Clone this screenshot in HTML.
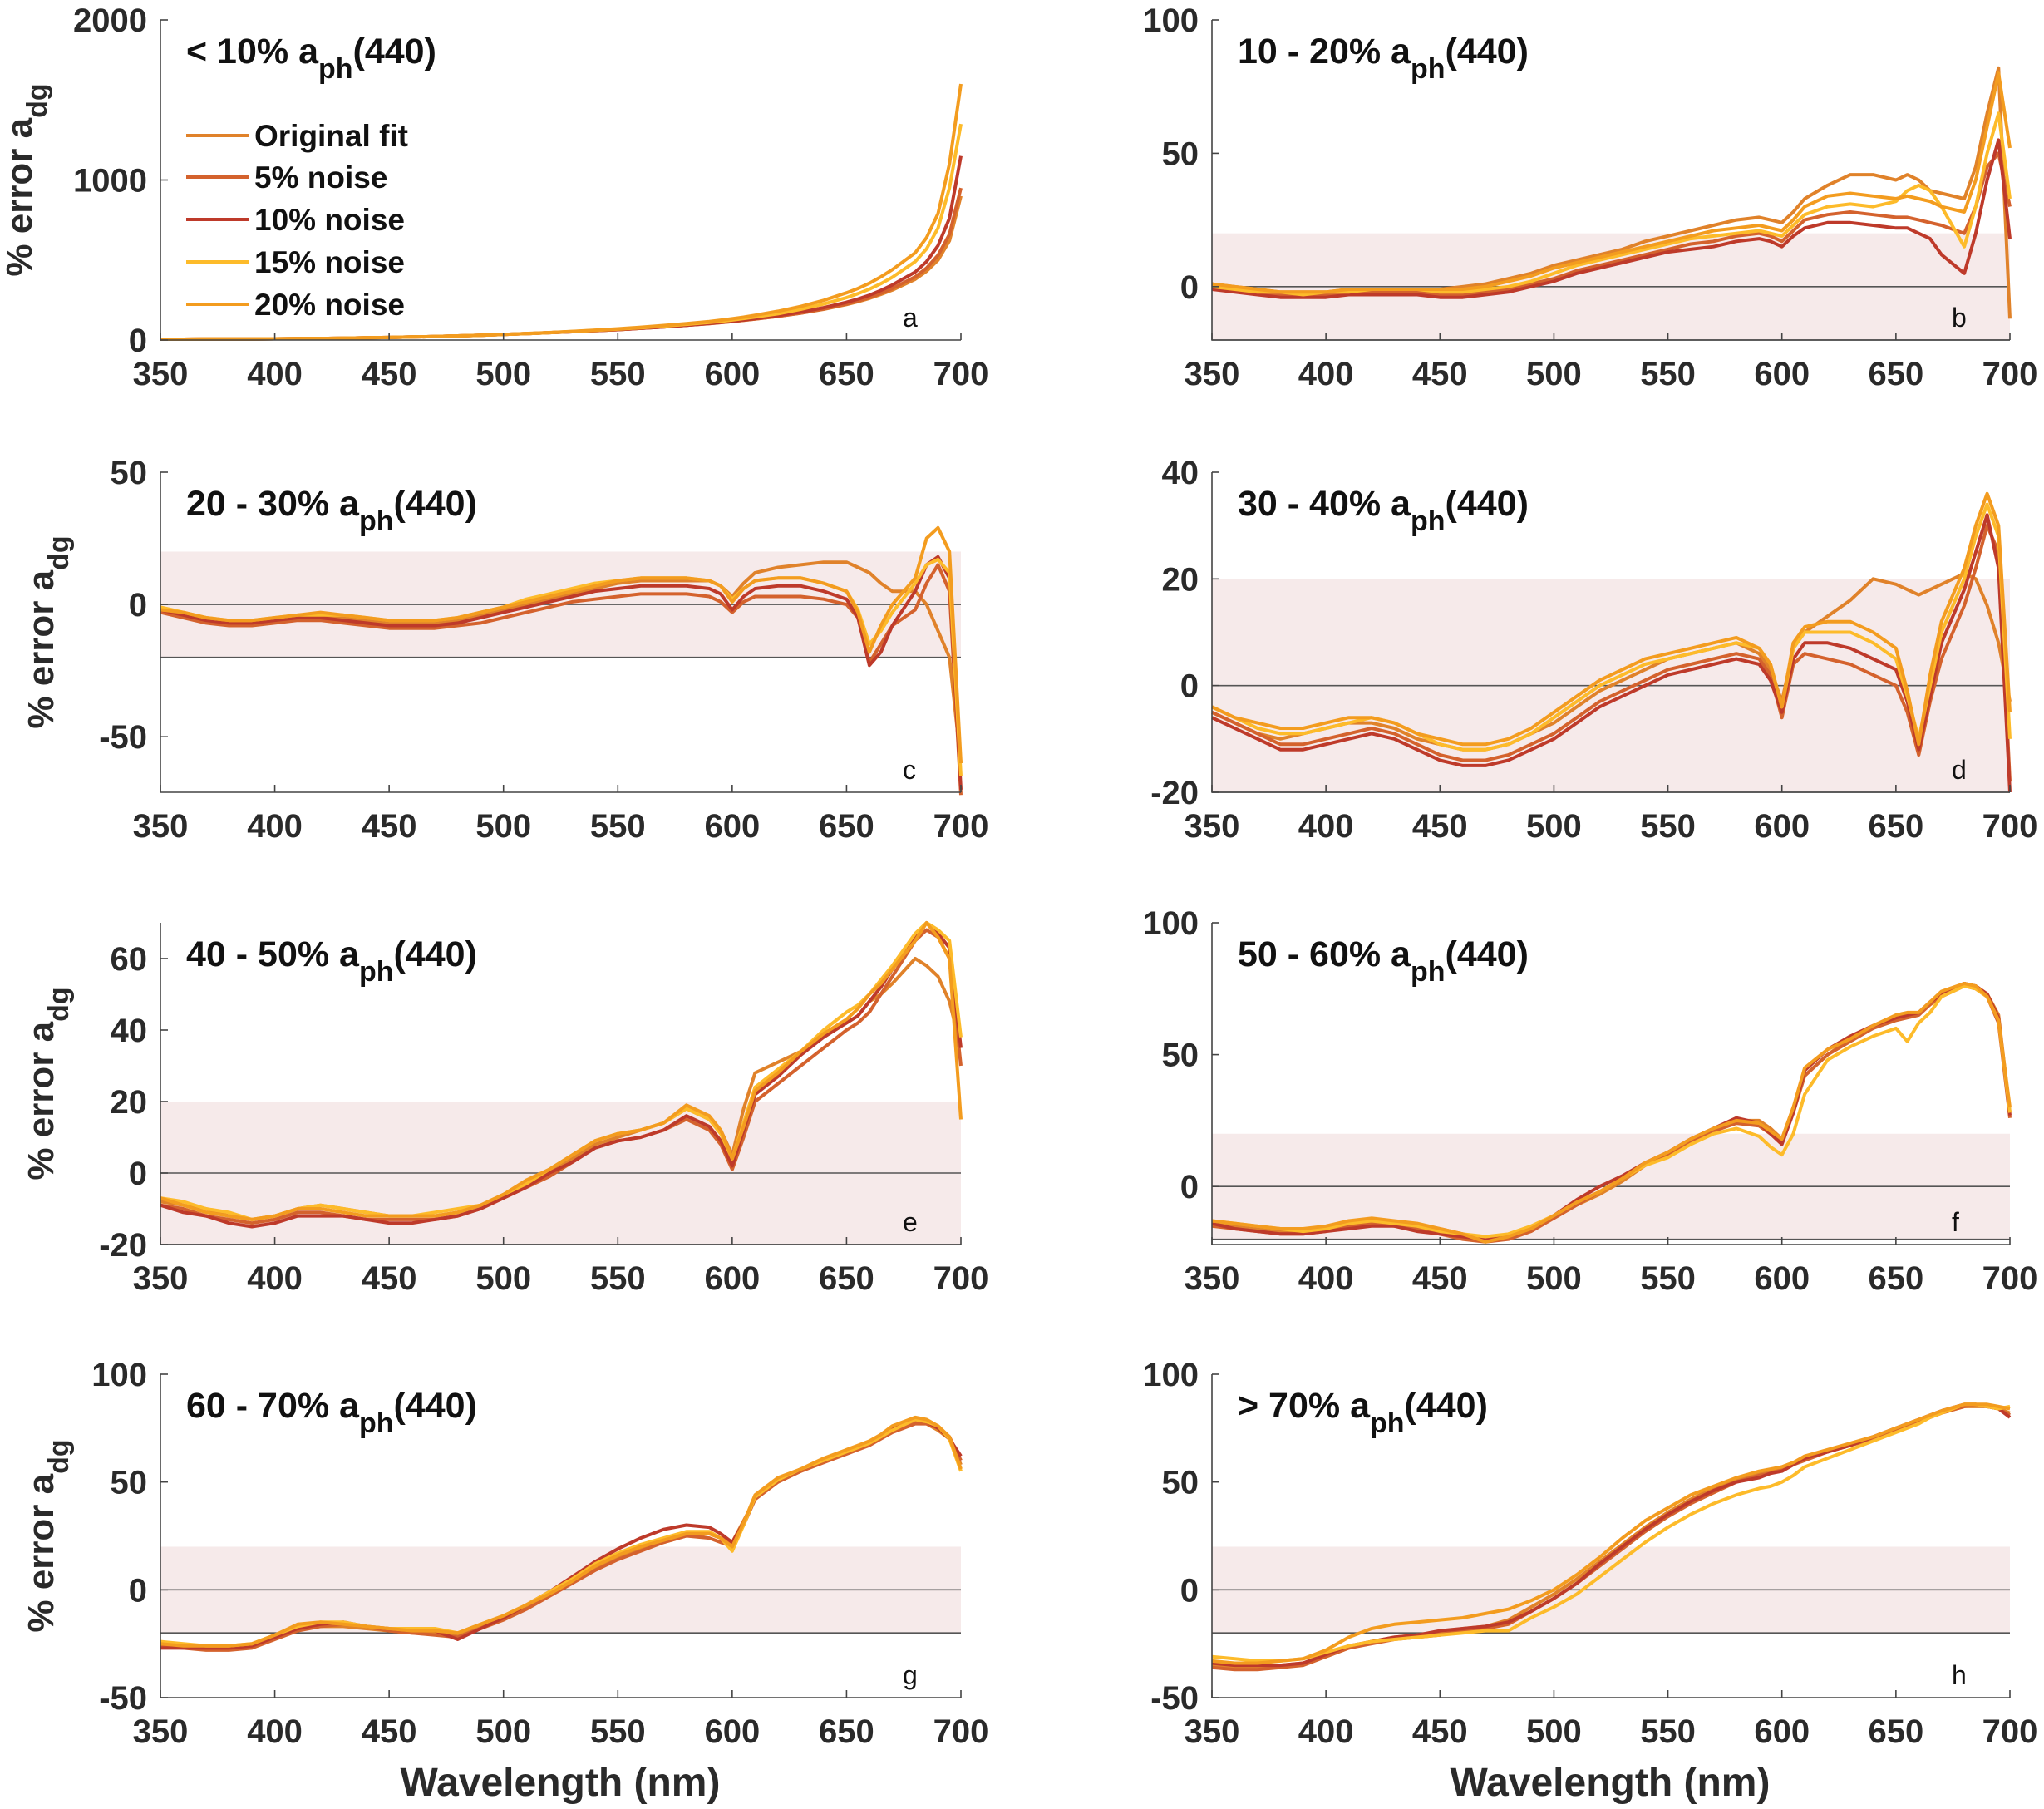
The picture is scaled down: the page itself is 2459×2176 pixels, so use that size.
<!DOCTYPE html>
<html><head><meta charset="utf-8"><style>
html,body{margin:0;padding:0;background:#fff}
svg{display:block}
text{font-family:"Liberation Sans",Arial,sans-serif}
</style></head><body>
<svg id="fig" width="2459" height="2176" viewBox="0 0 2459 2176" xmlns="http://www.w3.org/2000/svg"></svg>
<script>
const wavelengths=[350,360,370,380,390,400,410,420,430,440,450,460,470,480,490,500,510,520,530,540,550,560,570,580,590,595,600,605,610,620,630,640,650,655,660,665,670,680,685,690,695,700];
const seriesNames=["Original fit","5% noise","10% noise","15% noise","20% noise"];
const seriesColors=["#e0822a","#d4622d","#be3a2a","#fdbb2a","#f39c1f"];
const xTicks=[350,400,450,500,550,600,650,700];

const aSeries=[
[5,5,6,6,7,8,9,10,12,14,16,19,22,26,30,35,40,46,52,58,65,73,82,92,103,109,116,123,131,148,168,192,222,240,260,285,312,380,430,500,620,900],
[5,5,6,6,7,8,9,10,12,14,16,19,22,26,30,35,40,46,52,58,65,73,82,92,103,109,116,123,131,148,168,194,225,244,265,292,322,395,450,530,660,950],
[5,5,6,6,7,8,9,10,12,14,16,19,22,26,30,35,40,46,52,58,65,73,82,92,104,110,117,125,134,152,175,202,236,256,280,310,344,425,490,590,760,1150],
[5,5,6,6,7,8,9,10,12,14,16,19,22,26,30,35,40,46,53,60,68,77,87,98,110,117,125,134,144,164,192,225,265,290,318,352,392,490,570,700,950,1350],
[5,5,6,6,7,8,9,10,12,14,16,19,22,26,30,35,41,47,54,62,70,80,91,103,116,124,133,143,155,180,210,248,295,322,355,395,440,545,640,790,1100,1600]];
const bSeries=[
[1,0,-1,-2,-2,-2,-1,-1,-1,-1,-1,0,1,3,5,8,10,12,14,17,19,21,23,25,26,25,24,28,33,38,42,42,40,42,40,36,35,33,45,65,82,-12],
[0,-1,-2,-3,-3,-3,-2,-2,-2,-2,-3,-3,-2,-1,1,3,6,8,10,12,14,16,17,19,20,19,17,21,25,27,28,27,26,26,25,24,23,20,30,45,50,30],
[-1,-2,-3,-4,-4,-4,-3,-3,-3,-3,-4,-4,-3,-2,0,2,5,7,9,11,13,14,15,17,18,17,15,19,22,24,24,23,22,22,20,18,12,5,20,40,55,18],
[0,-1,-2,-2,-3,-2,-2,-1,-1,-1,-2,-2,-1,0,2,5,8,10,12,14,16,18,19,20,21,20,19,23,27,30,31,30,32,36,38,36,30,15,30,50,65,33],
[1,0,-1,-2,-2,-2,-1,-1,-1,-1,-1,-1,0,2,4,7,9,11,13,15,17,19,21,22,23,22,21,25,30,34,35,34,33,34,33,32,30,28,40,60,80,52]];
const cSeries=[
[-2,-4,-6,-7,-7,-6,-5,-4,-5,-6,-7,-7,-7,-6,-4,-2,0,2,4,6,8,9,9,9,9,7,3,8,12,14,15,16,16,14,12,8,5,5,0,-10,-20,-60],
[-3,-5,-7,-8,-8,-7,-6,-6,-7,-8,-9,-9,-9,-8,-7,-5,-3,-1,1,2,3,4,4,4,3,1,-3,1,3,3,3,2,0,-5,-22,-15,-8,-2,8,15,5,-72],
[-2,-4,-6,-7,-7,-6,-5,-5,-6,-7,-8,-8,-8,-7,-5,-3,-1,1,3,5,6,7,7,7,6,4,-2,3,6,7,7,5,2,-5,-23,-18,-8,5,15,18,10,-70],
[-1,-3,-5,-6,-6,-5,-4,-4,-4,-5,-6,-6,-6,-5,-3,-1,2,4,6,8,9,10,10,10,9,7,2,6,9,10,10,8,5,-2,-15,-10,-3,8,15,17,12,-65],
[-2,-3,-5,-6,-6,-5,-4,-3,-4,-5,-6,-6,-6,-5,-3,-1,1,3,5,7,9,10,10,10,9,7,1,6,9,10,10,8,5,-3,-18,-8,0,10,25,29,20,-60]];
const dSeries=[
[-5,-7,-9,-10,-9,-8,-7,-7,-8,-10,-11,-12,-12,-11,-9,-7,-4,-1,1,3,5,6,7,8,6,3,-3,7,10,13,16,20,19,18,17,18,19,21,20,15,8,-3],
[-5,-7,-9,-11,-11,-10,-9,-8,-9,-11,-13,-14,-14,-13,-11,-9,-6,-3,-1,1,3,4,5,6,5,2,-6,4,6,5,4,2,0,-5,-13,-3,5,15,22,30,25,-18],
[-6,-8,-10,-12,-12,-11,-10,-9,-10,-12,-14,-15,-15,-14,-12,-10,-7,-4,-2,0,2,3,4,5,4,1,-5,5,8,8,7,5,3,-3,-12,-2,8,18,25,32,22,-20],
[-4,-6,-8,-9,-9,-8,-7,-6,-7,-9,-11,-12,-12,-11,-9,-6,-3,0,2,4,5,6,7,8,7,4,-4,7,10,10,10,8,5,-2,-10,0,10,20,28,34,28,-10],
[-4,-6,-7,-8,-8,-7,-6,-6,-7,-9,-10,-11,-11,-10,-8,-5,-2,1,3,5,6,7,8,9,7,4,-4,8,11,12,12,10,7,-1,-11,2,12,22,30,36,30,-5]];
const eSeries=[
[-8,-9,-10,-12,-13,-12,-10,-9,-10,-11,-12,-12,-12,-11,-9,-6,-3,0,4,8,10,12,14,18,15,12,5,18,28,31,34,38,42,44,48,50,53,60,58,55,48,35],
[-9,-10,-12,-13,-14,-13,-11,-11,-12,-13,-13,-13,-13,-12,-10,-7,-4,-1,3,7,9,10,12,15,12,8,1,10,20,25,30,35,40,42,45,50,55,65,68,66,60,30],
[-9,-11,-12,-14,-15,-14,-12,-12,-12,-13,-14,-14,-13,-12,-10,-7,-4,0,3,7,9,10,12,16,13,9,2,12,22,27,33,38,42,44,48,52,57,66,70,67,63,35],
[-7,-8,-10,-11,-13,-12,-10,-9,-10,-11,-12,-12,-11,-10,-9,-6,-3,1,5,9,11,12,14,18,15,11,4,14,24,29,34,40,45,47,50,54,58,67,70,68,65,38],
[-7,-9,-11,-12,-13,-12,-10,-10,-11,-12,-12,-12,-12,-11,-9,-6,-2,1,5,9,11,12,14,19,16,12,4,13,23,28,34,39,43,46,50,53,57,65,70,66,60,15]];
const fSeries=[
[-14,-15,-16,-17,-17,-16,-14,-13,-14,-15,-16,-18,-20,-19,-16,-12,-7,-3,2,8,13,18,22,25,25,22,18,30,42,50,56,60,64,65,66,69,73,77,76,73,65,28],
[-15,-16,-17,-18,-18,-17,-15,-14,-15,-16,-18,-20,-21,-20,-17,-12,-7,-2,3,8,12,17,21,24,23,20,17,28,42,50,55,60,63,64,65,69,72,76,75,72,62,26],
[-14,-16,-17,-18,-18,-17,-16,-15,-15,-17,-18,-19,-20,-19,-16,-11,-5,0,4,9,13,18,22,26,24,20,16,28,44,52,57,61,64,65,66,70,73,77,76,73,64,27],
[-13,-14,-15,-16,-17,-16,-14,-13,-14,-15,-17,-18,-19,-18,-15,-11,-6,-2,3,8,11,16,20,22,19,15,12,20,35,48,53,57,60,55,62,66,72,76,75,72,63,28],
[-13,-14,-15,-16,-16,-15,-13,-12,-13,-14,-16,-18,-21,-19,-16,-11,-6,-2,3,9,13,18,22,25,24,21,18,30,45,52,56,61,65,66,66,70,74,77,76,72,63,30]];
const gSeries=[
[-25,-26,-27,-27,-26,-22,-18,-17,-17,-18,-19,-20,-20,-21,-17,-13,-8,-2,4,10,15,19,22,25,26,24,22,32,42,50,55,60,64,66,68,71,74,78,77,74,70,58],
[-26,-27,-28,-28,-27,-23,-19,-17,-16,-17,-19,-20,-21,-22,-18,-14,-9,-3,3,9,14,18,22,25,24,22,20,30,42,50,55,59,63,65,67,70,73,77,77,75,71,60],
[-27,-27,-27,-27,-26,-22,-18,-16,-15,-17,-18,-19,-19,-23,-18,-13,-7,-1,6,13,19,24,28,30,29,26,22,31,43,51,56,60,64,66,68,72,75,79,78,75,70,62],
[-24,-25,-26,-26,-25,-21,-17,-15,-15,-17,-18,-18,-18,-20,-16,-12,-7,-1,5,12,17,21,24,27,27,24,18,30,43,51,56,60,64,66,68,71,74,79,78,76,70,55],
[-25,-26,-26,-26,-25,-21,-16,-15,-16,-17,-18,-19,-19,-20,-16,-12,-7,-2,4,11,16,20,23,26,26,24,20,31,44,52,56,61,65,67,69,72,76,80,79,76,71,56]];
const hSeries=[
[-35,-36,-36,-35,-34,-31,-27,-24,-22,-21,-20,-18,-17,-14,-8,-2,5,13,21,29,36,42,47,51,54,55,57,59,61,64,67,70,74,76,78,80,82,85,85,85,84,82],
[-36,-37,-37,-36,-35,-31,-27,-25,-23,-22,-21,-19,-18,-16,-10,-4,3,11,19,27,34,40,45,50,53,54,56,58,60,64,67,70,74,76,78,80,82,85,86,85,84,81],
[-34,-35,-35,-35,-34,-30,-26,-24,-22,-21,-19,-18,-17,-15,-10,-4,3,12,20,28,35,41,46,50,52,54,55,58,61,64,67,71,75,77,79,81,83,86,86,85,84,80],
[-31,-32,-33,-33,-32,-29,-26,-24,-23,-22,-21,-20,-19,-19,-13,-8,-2,6,14,22,29,35,40,44,47,48,50,53,57,61,65,69,73,75,77,80,82,86,86,85,84,85],
[-33,-34,-34,-33,-32,-28,-22,-18,-16,-15,-14,-13,-11,-9,-5,0,7,15,24,32,38,44,48,52,55,56,57,59,62,65,68,71,75,77,79,81,83,86,86,86,85,84]];

const titlePrefixes=["< 10% ","10 - 20% ","20 - 30% ","30 - 40% ","40 - 50% ","50 - 60% ","60 - 70% ","> 70% "];
const panelLetters=["a","b","c","d","e","f","g","h"];
const yRanges=[[0,2000],[-20,100],[-71,50],[-20,40],[-20,70],[-22,100],[-50,100],[-50,100]];
const yTicks=[[0,1000,2000],[0,50,100],[-50,0,50],[-20,0,20,40],[-20,0,20,40,60],[0,50,100],[-50,0,50,100],[-50,0,50,100]];
const panelData=[aSeries,bSeries,cSeries,dSeries,eSeries,fSeries,gSeries,hSeries];

const NS="http://www.w3.org/2000/svg";
const svg=document.getElementById('fig');
function mk(tag,attrs,parent){const e=document.createElementNS(NS,tag);for(const k in attrs)e.setAttribute(k,attrs[k]);(parent||svg).appendChild(e);return e;}

const colX=[[193,1156],[1458,2418]];
const rowY=[[24,409],[568,953],[1110,1497],[1653,2042]];

for(let p=0;p<8;p++){
  const col=p%2,row=Math.floor(p/2);
  const x0=colX[col][0],x1=colX[col][1],y0=rowY[row][0],y1=rowY[row][1];
  const [ymin,ymax]=yRanges[p];
  const sx=v=>x0+(v-350)/(700-350)*(x1-x0);
  const sy=v=>y1-(v-ymin)/(ymax-ymin)*(y1-y0);
  const g=mk('g',{});
  
  
  if(p>0){
    const band=mk('rect',{x:x0,y:sy(Math.min(20,ymax)),width:x1-x0,height:sy(Math.max(-20,ymin))-sy(Math.min(20,ymax)),fill:'#f6eaea'},g);
    
    
    const zl=mk('line',{x1:x0,x2:x1,y1:sy(0),y2:sy(0),stroke:'#555',"stroke-width":1.6},g);
    
    
    if(ymin<=-20){const ml=mk('line',{x1:x0,x2:x1,y1:sy(-20),y2:sy(-20),stroke:'#555',"stroke-width":1.6},g);
      
      }
  }
  const ser=panelData[p];
  for(let s=0;s<5;s++){
    const pts=wavelengths.map((w,i)=>sx(w).toFixed(1)+','+sy(ser[s][i]).toFixed(1)).join(' ');
    const pl=mk('polyline',{points:pts,fill:'none',stroke:seriesColors[s],"stroke-width":4,"stroke-linejoin":'round'},g);
    
    
  }
  const ax=mk('path',{d:`M${x0},${y0}V${y1}H${x1}`,fill:'none',stroke:'#444',"stroke-width":1.6},g);
  
  
  xTicks.forEach(t=>{
    mk('line',{x1:sx(t),x2:sx(t),y1:y1,y2:y1-9,stroke:'#444',"stroke-width":1.6},g);
    const tl=mk('text',{x:sx(t),y:y1+54,"text-anchor":'middle',"font-size":40,"font-weight":'bold',fill:'#2a2a2a'},g);
    tl.textContent=t;
    
    
  });
  yTicks[p].forEach(t=>{
    mk('line',{x1:x0,x2:x0+9,y1:sy(t),y2:sy(t),stroke:'#444',"stroke-width":1.6},g);
    const tl=mk('text',{x:x0-16,y:sy(t)+14,"text-anchor":'end',"font-size":40,"font-weight":'bold',fill:'#2a2a2a'},g);
    tl.textContent=t;
    
    
  });
  const tt=mk('text',{x:x0+31,y:y0+52,"font-size":43,"font-weight":'bold',fill:'#111'},g);
  
  
  tt.innerHTML=titlePrefixes[p]+'a<tspan dy="18" font-size="34">ph</tspan><tspan dy="-18">(440)</tspan>';
  const lt=mk('text',{x:x1-70,y:y1-16,"font-size":32,fill:'#111'},g);
  lt.textContent=panelLetters[p];
  
  
  if(col===0){
    const cy=(y0+y1)/2;
    const yl=mk('text',{x:0,y:0,transform:`translate(${p===0?38:64},${cy}) rotate(-90)`,"text-anchor":'middle',"font-size":44,"font-weight":'bold',fill:'#2a2a2a'},g);
    yl.innerHTML='% error a<tspan dy="18" font-size="34">dg</tspan>';
    
    
  }
  if(p===0){
    const lg=mk('g',{},g);
    
    
    const ly=[163,213,264,315,366];
    for(let s=0;s<5;s++){
      const e=mk('g',{},lg);
      
      
      mk('line',{x1:224,x2:299,y1:ly[s],y2:ly[s],stroke:seriesColors[s],"stroke-width":4},e);
      const t=mk('text',{x:306,y:ly[s]+13,"font-size":37,"font-weight":'bold',fill:'#111'},e);
      t.textContent=seriesNames[s];
    }
  }
}
[[674],[1937]].forEach(([cx])=>{
  const t=mk('text',{x:cx,y:2160,"text-anchor":'middle',"font-size":48,"font-weight":'bold',fill:'#2a2a2a'});
  t.textContent='Wavelength (nm)';
  
  
});
</script>
</body></html>
